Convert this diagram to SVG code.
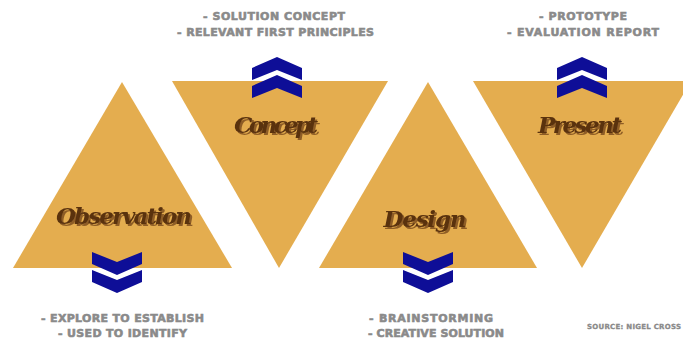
<svg xmlns="http://www.w3.org/2000/svg" width="683" height="341" viewBox="0 0 683 341">
  <style>
    .tri { fill: #E4AD4F; }
    .chev { fill: #0E0E97; }
    .note { font-family: "DejaVu Sans", "Liberation Sans", sans-serif; font-weight: bold; font-size: 11px; fill: #8A8A8A; stroke: #8A8A8A; stroke-width: 0.6; text-anchor: middle; }
    .src { font-family: "DejaVu Sans", "Liberation Sans", sans-serif; font-weight: bold; font-size: 7px; fill: #8A8A8A; stroke: #8A8A8A; stroke-width: 0.3; }
    .title { font-family: "DejaVu Serif", "Liberation Serif", serif; font-weight: bold; font-style: italic; font-size: 23px; text-anchor: middle; fill: #5A3211; filter: url(#brownShadow); }
  </style>
  <defs>
    <!-- lighter brown drop shadow for the stage names -->
    <filter id="brownShadow" x="-10%" y="-20%" width="120%" height="150%">
      <feOffset in="SourceAlpha" dx="2" dy="2" result="off"/>
      <feFlood flood-color="#8E5D25"/>
      <feComposite in2="off" operator="in" result="shadow"/>
      <feMerge>
        <feMergeNode in="shadow"/>
        <feMergeNode in="SourceGraphic"/>
      </feMerge>
    </filter>
    <!-- double chevron pointing up, centred on x=0, top at y=0 -->
    <g id="chevUp">
      <polygon class="chev" points="-25,11 0,0 25,11 25,23 0,13 -25,23"/>
      <polygon class="chev" points="-25,29 0,18 25,29 25,41 0,31 -25,41"/>
    </g>
    <!-- double chevron pointing down, centred on x=0, top at y=0 -->
    <g id="chevDown">
      <polygon class="chev" points="-25,0 0,10 25,0 25,12 0,23 -25,12"/>
      <polygon class="chev" points="-25,18 0,28 25,18 25,30 0,41 -25,30"/>
    </g>
  </defs>

  <rect width="683" height="341" fill="#FFFFFF"/>

  <g id="connectors"></g>

  <g id="observation">
    <polygon class="tri" points="122,82 232,268 13,268"/>
    <text class="title" x="124" y="224" textLength="136">Observation</text>
    <use href="#chevDown" x="117" y="252"/>
    <text class="note" x="122.5" y="322" textLength="163">- EXPLORE TO ESTABLISH</text>
    <text class="note" x="122.5" y="337" textLength="129">- USED TO IDENTIFY</text>
  </g>

  <g id="concept">
    <polygon class="tri" points="172,81 388,81 279,268"/>
    <text class="title" x="276" y="133" textLength="84">Concept</text>
    <use href="#chevUp" x="277" y="57"/>
    <text class="note" x="274" y="19.5" textLength="142">- SOLUTION CONCEPT</text>
    <text class="note" x="275.5" y="36" textLength="197">- RELEVANT FIRST PRINCIPLES</text>
  </g>

  <g id="design">
    <polygon class="tri" points="428,82 537,268 319,268"/>
    <text class="title" x="425" y="227" textLength="83">Design</text>
    <use href="#chevDown" x="428" y="252"/>
    <text class="note" x="431" y="322" textLength="124">- BRAINSTORMING</text>
    <text class="note" x="436" y="337" textLength="136">- CREATIVE SOLUTION</text>
  </g>

  <g id="present">
    <polygon class="tri" points="473,81 691,81 582,268"/>
    <text class="title" x="580" y="133" textLength="84">Present</text>
    <use href="#chevUp" x="582" y="57"/>
    <text class="note" x="583" y="19.5" textLength="88">- PROTOTYPE</text>
    <text class="note" x="583" y="36" textLength="152">- EVALUATION REPORT</text>
  </g>

  <text id="source" class="src" x="587" y="328.5" textLength="94">SOURCE: NIGEL CROSS</text>
</svg>
